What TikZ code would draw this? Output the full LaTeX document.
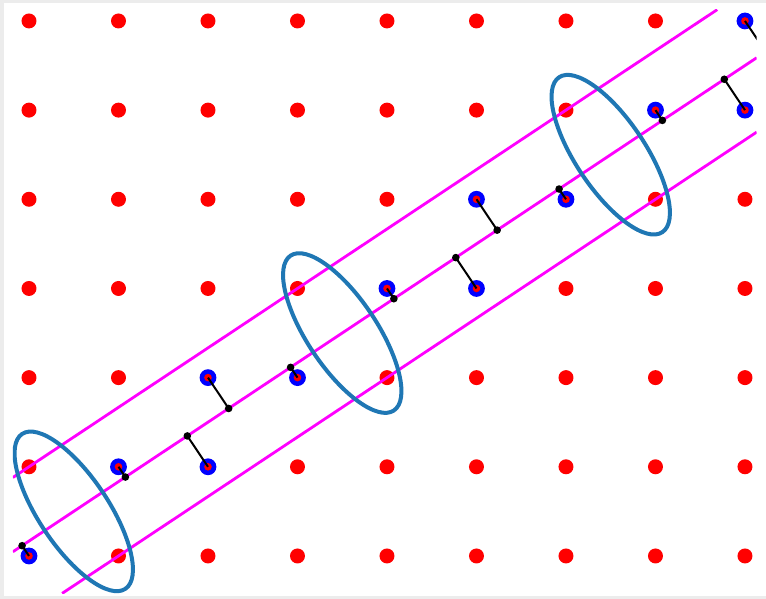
\documentclass[tikz,border=0pt]{standalone}
\begin{document}
\begin{tikzpicture}[x=44.75pt,y=44.585pt,
  reddot/.style={circle,fill=red,inner sep=0pt,minimum size=7.5pt},
  bluedot/.style={circle,fill=blue,inner sep=0pt,minimum size=8.4pt},
  redcore/.style={circle,fill=red,inner sep=0pt,minimum size=3.8pt},
  projdot/.style={circle,fill=black,inner sep=0pt,minimum size=3.8pt},
  band/.style={draw=pinkline,line width=1.4pt},
  ring/.style={draw=ringblue,line width=2pt},
  seg/.style={draw=black,line width=1pt}]
\definecolor{ringblue}{HTML}{1F77B4}
\definecolor{pinkline}{RGB}{255,0,255}
\definecolor{frame}{HTML}{ECECEC}
% background and frame
\fill[frame] (-0.324,-0.482) rectangle (8.235,6.235);
\fill[white] (-0.279,-0.449) rectangle (8.235,6.202);
\useasboundingbox (-0.324,-0.482) rectangle (8.235,6.235);
\begin{scope}
\clip (-0.18,-0.42) rectangle (8.13,6.13);
% grid of red points
\foreach \c in {0,...,8}{
  \foreach \r in {0,...,6}{
    \node[reddot] (g-\c-\r) at (\c,\r) {};
  }
}
% highlighted points
\foreach \n/\px/\py in {1/0/0,2/1/1,3/2/2,4/2/1,5/3/2,6/4/3,7/5/4,8/5/3,9/6/4,10/7/5,11/8/5,12/8/6}{
  \node[bluedot] (b\n) at (\px,\py) {};
  \node[redcore] at (b\n.center) {};
}
% magenta lines
\coordinate (u1) at (-0.18,0.88);  \coordinate (u2) at (7.69,6.127);
\coordinate (m1) at (-0.18,0.047); \coordinate (m2) at (8.13,5.587);
\coordinate (l1) at (0.37,-0.42);  \coordinate (l2) at (8.13,4.753);
\draw[band] (u1) -- (u2);
\draw[band] (m1) -- (m2);
\draw[band] (l1) -- (l2);
% ellipses
\foreach \cx/\cy in {0.5/0.5,3.5/2.5,6.5/4.5}{
  \draw[ring,shift={(\cx,\cy)},rotate=-56.31] (0,0) ellipse [x radius=1.04,y radius=0.39];
}
% projections
\foreach \n/\qx/\qy in {1/-0.077/0.115,2/1.077/0.885,3/2.231/1.654,4/1.769/1.346,5/2.923/2.115,6/4.077/2.885,7/5.231/3.654,8/4.769/3.346,9/5.923/4.115,10/7.077/4.885,11/7.769/5.346,12/8.231/5.654}{
  \coordinate (q\n) at (\qx,\qy);
  \draw[seg] (b\n.center) -- (q\n);
  \node[projdot] at (q\n) {};
}
\end{scope}
\end{tikzpicture}
\end{document}
